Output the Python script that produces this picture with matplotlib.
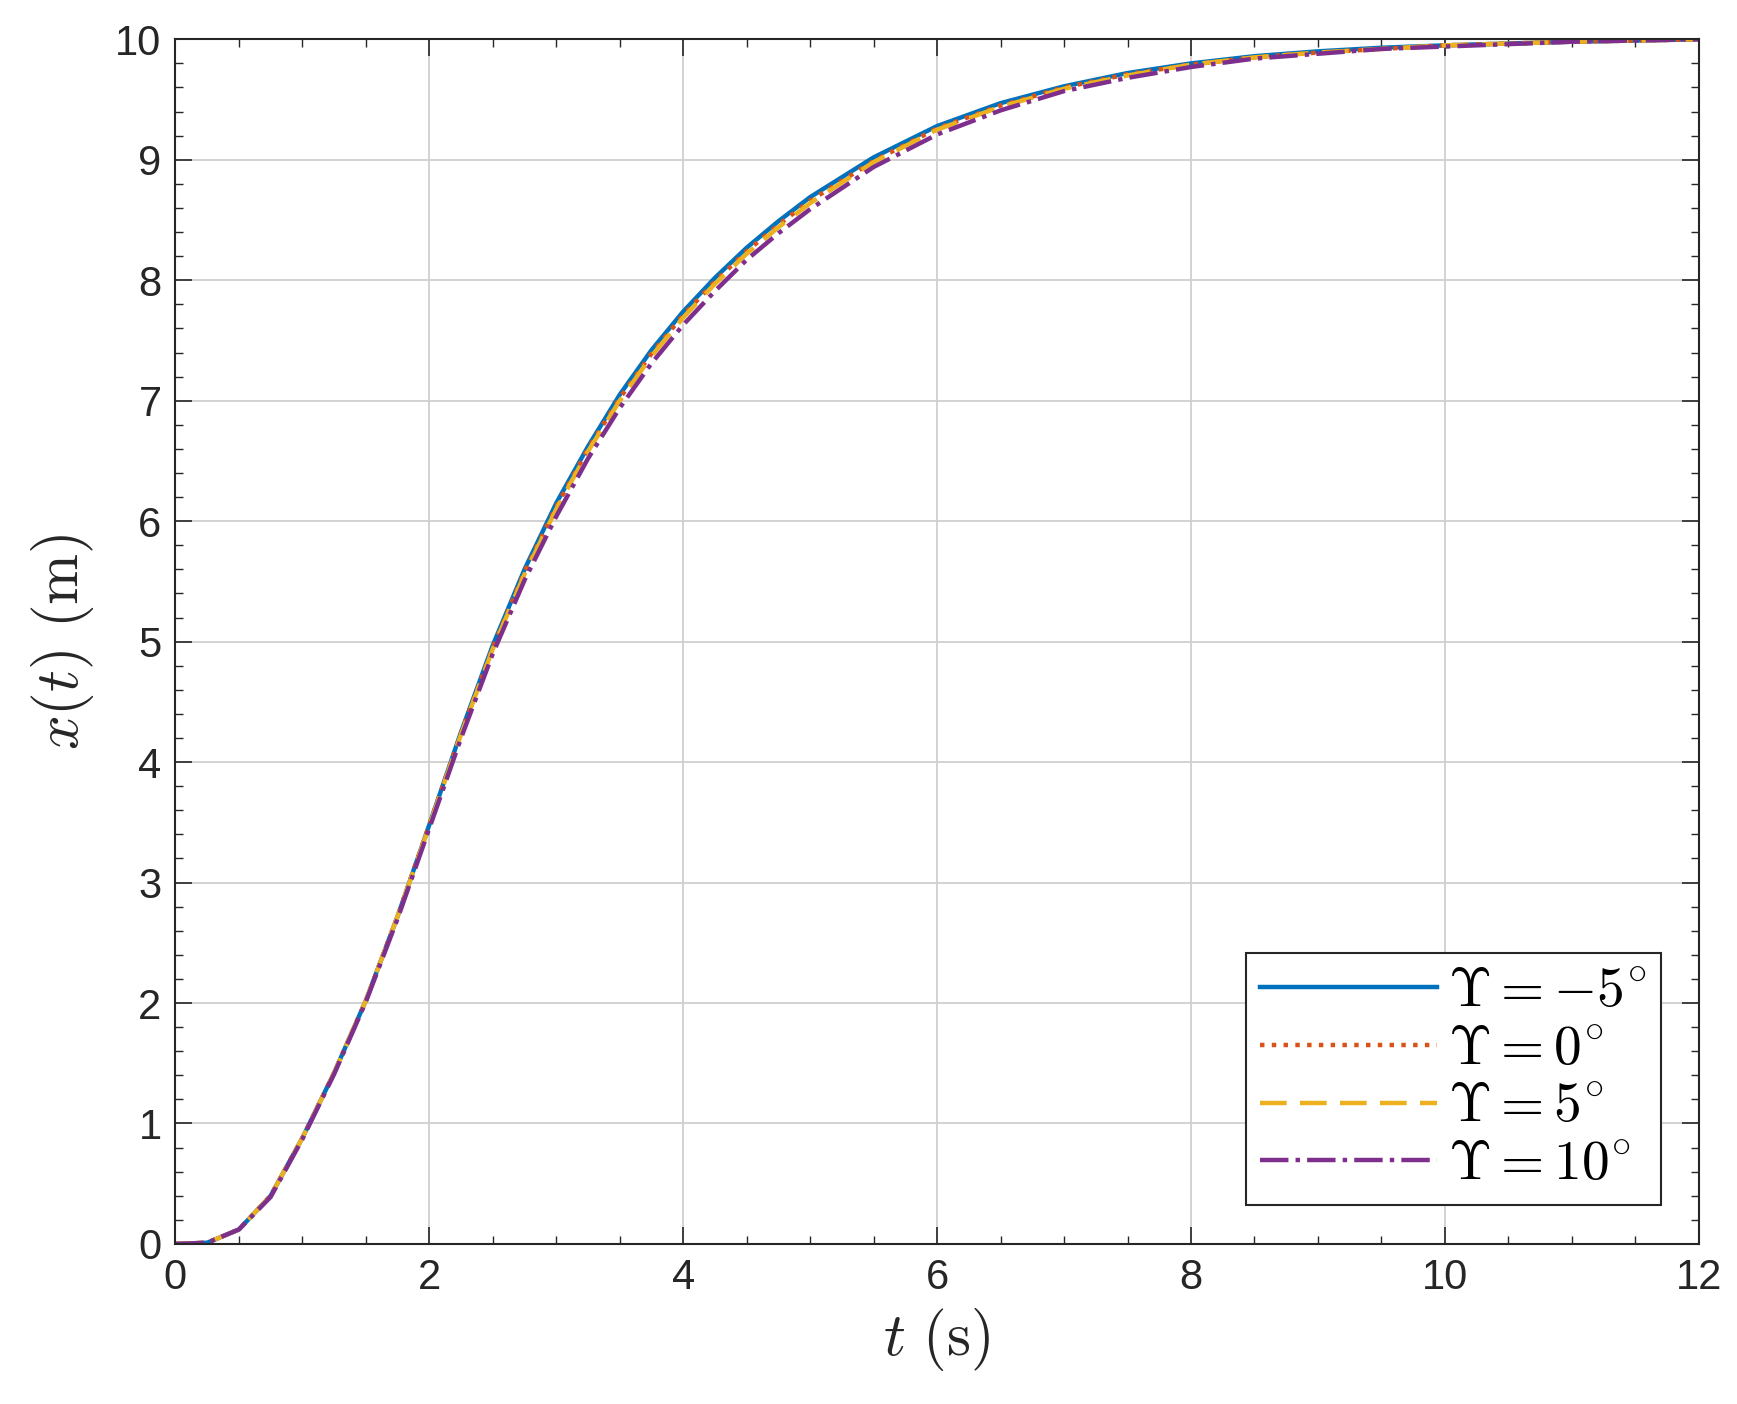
import matplotlib
matplotlib.use("Agg")
import matplotlib.pyplot as plt
from matplotlib.ticker import MultipleLocator

plt.rcParams['mathtext.fontset'] = 'cm'
plt.rcParams['font.family'] = ['Liberation Sans', 'DejaVu Sans']

t = [0, 0.25, 0.5, 0.75, 1.0, 1.25, 1.5, 1.75, 2.0, 2.25, 2.5, 2.75, 3.0, 3.25, 3.5, 3.75, 4.0,
     4.25, 4.5, 4.75, 5.0, 5.5, 6.0, 6.5, 7.0, 7.5, 8.0, 8.5, 9.0, 9.5, 10.0, 11.0, 12.0]
x_m5 = [0, 0.01, 0.12, 0.4, 0.88, 1.42, 2.02, 2.72, 3.48, 4.25, 4.97, 5.6, 6.15, 6.62, 7.05, 7.42, 7.74,
        8.02, 8.27, 8.49, 8.69, 9.02, 9.28, 9.47, 9.61, 9.72, 9.8, 9.86, 9.9, 9.93, 9.95, 9.98, 10.0]
x_0 = [0, 0.01, 0.12, 0.4, 0.88, 1.42, 2.02, 2.72, 3.48, 4.24, 4.95, 5.58, 6.12, 6.6, 7.02, 7.39, 7.71,
       7.99, 8.24, 8.46, 8.66, 8.99, 9.26, 9.45, 9.6, 9.71, 9.79, 9.85, 9.89, 9.92, 9.95, 9.98, 10.0]
x_5 = [0, 0.01, 0.12, 0.4, 0.88, 1.42, 2.02, 2.72, 3.47, 4.23, 4.94, 5.56, 6.1, 6.58, 7.0, 7.37, 7.69,
       7.97, 8.22, 8.44, 8.64, 8.98, 9.25, 9.44, 9.59, 9.7, 9.79, 9.85, 9.89, 9.92, 9.95, 9.98, 10.0]
x_10 = [0, 0.01, 0.12, 0.39, 0.87, 1.41, 2.01, 2.7, 3.45, 4.2, 4.9, 5.51, 6.04, 6.52, 6.94, 7.31, 7.63,
        7.91, 8.17, 8.39, 8.59, 8.94, 9.21, 9.41, 9.57, 9.68, 9.77, 9.84, 9.88, 9.92, 9.94, 9.98, 10.0]
labels = [r'$\Upsilon = -5^{\circ}$', r'$\Upsilon = 0^{\circ}$', r'$\Upsilon = 5^{\circ}$', r'$\Upsilon = 10^{\circ}$']

fig = plt.figure(figsize=(17.37, 14.04), dpi=100)
ax = fig.add_axes([0.101, 0.114, 0.877, 0.858])
lw = 3.2
ax.plot(t, x_m5, color='#0072BD', lw=lw, ls='-', label=labels[0])
ax.plot(t, x_0, color='#D95319', lw=lw, ls=':', label=labels[1])
ax.plot(t, x_5, color='#EDB120', lw=lw, ls=(0, (6, 3)), label=labels[2])
ax.plot(t, x_10, color='#7E2F8E', lw=lw, ls='-.', label=labels[3])

ax.set_xlim(0, 12)
ax.set_ylim(0, 10)
ax.xaxis.set_major_locator(MultipleLocator(2))
ax.yaxis.set_major_locator(MultipleLocator(1))
ax.xaxis.set_minor_locator(MultipleLocator(0.5))
ax.yaxis.set_minor_locator(MultipleLocator(0.2))
ax.grid(True, which='major', color='#cfcfcf', lw=1.3)
ax.tick_params(which='both', direction='in', top=True, right=True, colors='#262626', labelsize=30)
ax.tick_params(which='major', length=12, width=1.2, pad=10)
ax.tick_params(which='minor', length=6, width=1.0)
for s in ax.spines.values():
    s.set_color('#262626'); s.set_linewidth(1.5)
ax.set_xlabel(r'$t\ \mathrm{(s)}$', fontsize=44, color='#262626', labelpad=6)
ax.set_ylabel(r'$x(t)\ \mathrm{(m)}$', fontsize=44, color='#262626', labelpad=14)
leg = ax.legend(loc='lower right', fontsize=40, fancybox=False, framealpha=1,
                edgecolor='#262626', handlelength=3.2, handletextpad=0.2, borderpad=0.25,
                labelspacing=0.1, borderaxespad=0, bbox_to_anchor=(0.975, 0.032))
leg.get_frame().set_linewidth(1.5)
fig.savefig('out.png', dpi=100, facecolor='white')
